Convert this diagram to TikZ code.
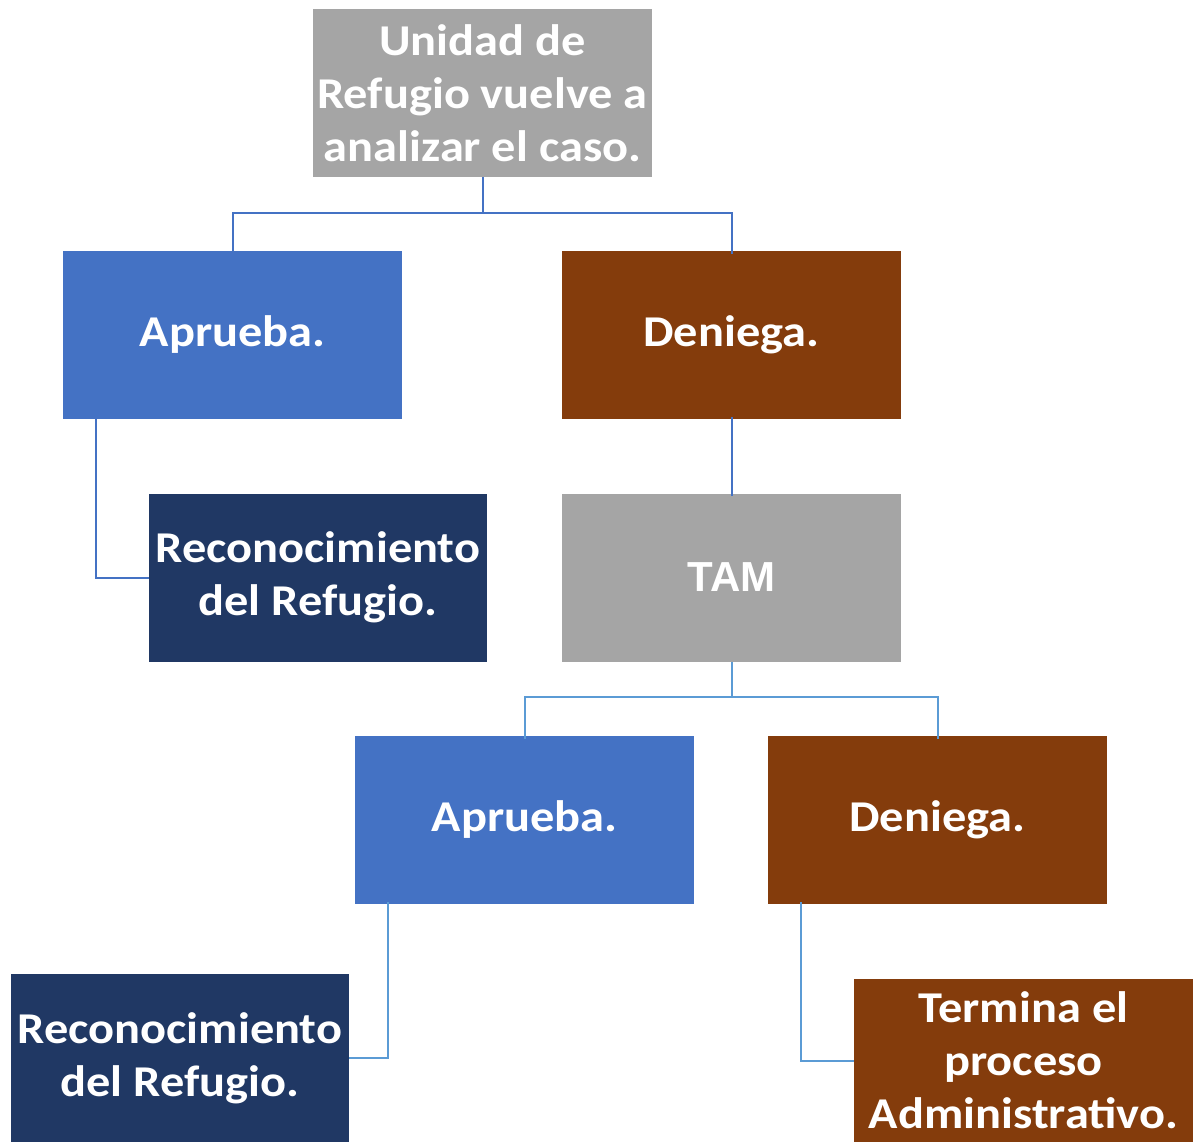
\documentclass[tikz,border=0pt]{standalone}
\usepackage{fontspec}
\setmainfont{Carlito}[FakeStretch=1.1]
\newfontfamily\arialfont{Liberation Sans}
\definecolor{cgray}{HTML}{A5A5A5}
\definecolor{cblue}{HTML}{4472C4}
\definecolor{cbrown}{HTML}{843C0C}
\definecolor{cnavy}{HTML}{203864}
\definecolor{lineA}{HTML}{4472C4}
\definecolor{lineB}{HTML}{5B9BD5}
\tikzset{
  box/.style={rectangle, inner sep=0pt, minimum width=339pt, minimum height=168pt,
    text=white, align=center, font=\fontsize{44}{53}\selectfont\bfseries},
  linkA/.style={draw=lineA, line width=2pt},
  linkB/.style={draw=lineB, line width=2pt},
}
\begin{document}
\begin{tikzpicture}[x=1pt,y=-1pt]
\useasboundingbox (0,0) rectangle (1199,1142);
\node[box, fill=cgray] (top) at (482.5,93) {Unidad de\\Refugio vuelve a\\analizar el caso.};
\node[box, fill=cblue] (a1) at (232.5,335) {Aprueba.};
\node[box, fill=cbrown] (d1) at (731.5,335) {Deniega.};
\node[box, fill=cnavy, minimum width=338pt] (r1) at (318,577.5) {Reconocimiento\\del Refugio.};
\node[box, fill=cgray, font=\fontsize{42}{50}\selectfont\bfseries\arialfont] (tam) at (731.5,577.5) {TAM};
\node[box, fill=cblue] (a2) at (524.5,820) {Aprueba.};
\node[box, fill=cbrown] (d2) at (937.5,820) {Deniega.};
\node[box, fill=cnavy, minimum width=338pt] (r2) at (180,1058) {Reconocimiento\\del Refugio.};
\node[box, fill=cbrown, minimum height=163pt] (t) at (1023.5,1060.5) {Termina el\\proceso\\Administrativo.};
\coordinate (j1) at (482.5,213);
\coordinate (j2) at (731.5,697);
\draw[linkA] (top.south) -- (j1) -| ([yshift=-3pt]a1.north);
\draw[linkA] (j1) -| ([yshift=-3pt]d1.north);
\draw[linkA] ([xshift=-136.5pt,yshift=2pt]a1.south) |- (r1.west);
\draw[linkA] ([yshift=2pt]d1.south) -- ([yshift=-3pt]tam.north);
\draw[linkB] (tam.south) -- (j2) -| ([yshift=-3pt]a2.north);
\draw[linkB] (j2) -| ([yshift=-3pt]d2.north);
\draw[linkB] ([xshift=-136.5pt,yshift=2pt]a2.south) |- (r2.east);
\draw[linkB] ([xshift=-136.5pt,yshift=2pt]d2.south) |- (t.west);
\end{tikzpicture}
\end{document}
